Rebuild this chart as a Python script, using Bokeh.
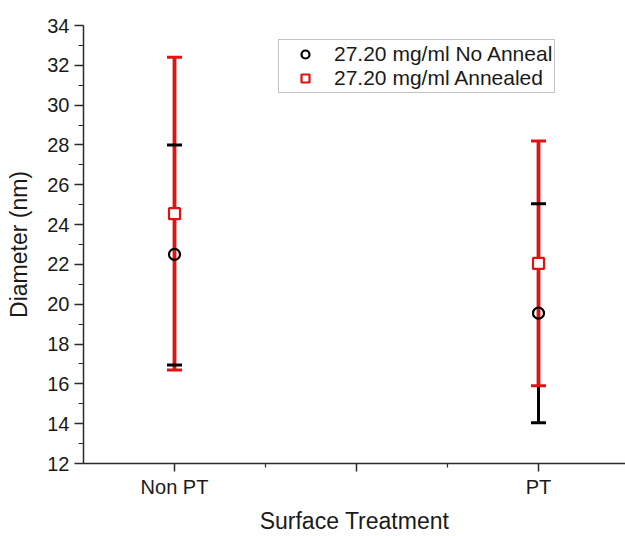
from bokeh.plotting import figure
from bokeh.models import Range1d, FixedTicker, SingleIntervalTicker, Legend, LegendItem, ColumnDataSource
from bokeh.embed import file_html
from bokeh.resources import INLINE

# ---- data ----
categories = ["Non PT", "PT"]
no_anneal_mean = [22.5, 19.55]
no_anneal_lower = [16.95, 14.05]
no_anneal_upper = [28.0, 25.05]
annealed_mean = [24.55, 22.05]
annealed_lower = [16.7, 15.9]
annealed_upper = [32.4, 28.2]
series_names = ["27.20 mg/ml No Anneal", "27.20 mg/ml Annealed"]

x_pos = [i + 1 for i in range(len(categories))]

FONT = "Liberation Sans"
RED = "#e31212"
BLACK = "#000000"
AXIS = "#2b2b2b"

p = figure(width=625, height=536, output_backend="svg", toolbar_location=None,
           x_range=Range1d(0.75, 2.239), y_range=Range1d(12, 34),
           min_border_left=83, min_border_right=0, min_border_top=25, min_border_bottom=73)
p.outline_line_color = None
p.xgrid.visible = False
p.ygrid.visible = False
p.background_fill_color = "white"
p.border_fill_color = "white"

src_na = ColumnDataSource(dict(x=x_pos, m=no_anneal_mean, lo=no_anneal_lower, hi=no_anneal_upper))
src_a = ColumnDataSource(dict(x=x_pos, m=annealed_mean, lo=annealed_lower, hi=annealed_upper))

# stems
p.segment(x0="x", y0="lo", x1="x", y1="hi", source=src_na, line_color=BLACK, line_width=3)
p.segment(x0="x", y0="lo", x1="x", y1="hi", source=src_a, line_color=RED, line_width=3.8)
# caps
p.scatter(x="x", y="lo", source=src_a, marker="dash", size=15, line_color=RED, line_width=3)
p.scatter(x="x", y="hi", source=src_a, marker="dash", size=15, line_color=RED, line_width=3)
p.scatter(x="x", y="lo", source=src_na, marker="dash", size=15, line_color=BLACK, line_width=3)
p.scatter(x="x", y="hi", source=src_na, marker="dash", size=15, line_color=BLACK, line_width=3)
# markers
r_na = p.scatter(x="x", y="m", source=src_na, marker="circle", size=11,
                 line_color=BLACK, line_width=2.2, fill_color="white", fill_alpha=0)
r_a = p.scatter(x="x", y="m", source=src_a, marker="square", size=11,
                line_color=RED, line_width=2.2, fill_color="white")

# axes
xa = p.xaxis[0]
xa.ticker = FixedTicker(ticks=[1, 1.5, 2], minor_ticks=[1.25, 1.75, 2.25])
overrides = {float(x): c for x, c in zip(x_pos, categories)}
overrides[1.5] = ""
xa.major_label_overrides = overrides
xa.axis_label = "Surface Treatment"
ya = p.yaxis[0]
ya.ticker = SingleIntervalTicker(interval=2, num_minor_ticks=2)
ya.axis_label = "Diameter (nm)"

for ax in (xa, ya):
    ax.axis_line_color = AXIS
    ax.axis_line_width = 1.5
    ax.major_tick_line_color = AXIS
    ax.minor_tick_line_color = AXIS
    ax.major_tick_line_width = 1.5
    ax.minor_tick_line_width = 1.2
    ax.major_tick_in = 0
    ax.minor_tick_in = 0
    ax.major_label_text_font = FONT
    ax.major_label_text_font_size = "20px"
    ax.major_label_text_color = "#1a1a1a"
    ax.axis_label_text_font = FONT
    ax.axis_label_text_font_size = "23px"
    ax.axis_label_text_font_style = "normal"
    ax.axis_label_text_color = "#1a1a1a"

ya.major_tick_out = 9
ya.minor_tick_out = 5
ya.major_label_standoff = 5
ya.axis_label_standoff = 12
xa.major_tick_out = 8
xa.minor_tick_out = 4
xa.major_label_standoff = 4
xa.axis_label_standoff = 7

legend = Legend(items=[LegendItem(label=series_names[0], renderers=[r_na]),
                       LegendItem(label=series_names[1], renderers=[r_a])],
                location=(195, 370))
legend.label_text_font = FONT
legend.label_text_font_size = "21px"
legend.label_text_color = "#1a1a1a"
legend.border_line_color = "#8a8a8a"
legend.border_line_width = 1
legend.background_fill_color = "white"
legend.background_fill_alpha = 1
legend.padding = 2
legend.spacing = 0
legend.margin = 0
legend.glyph_width = 48
legend.glyph_height = 20
legend.label_height = 20
legend.label_standoff = 5
p.add_layout(legend, "center")

open("out.html", "w").write(file_html(p, INLINE))
